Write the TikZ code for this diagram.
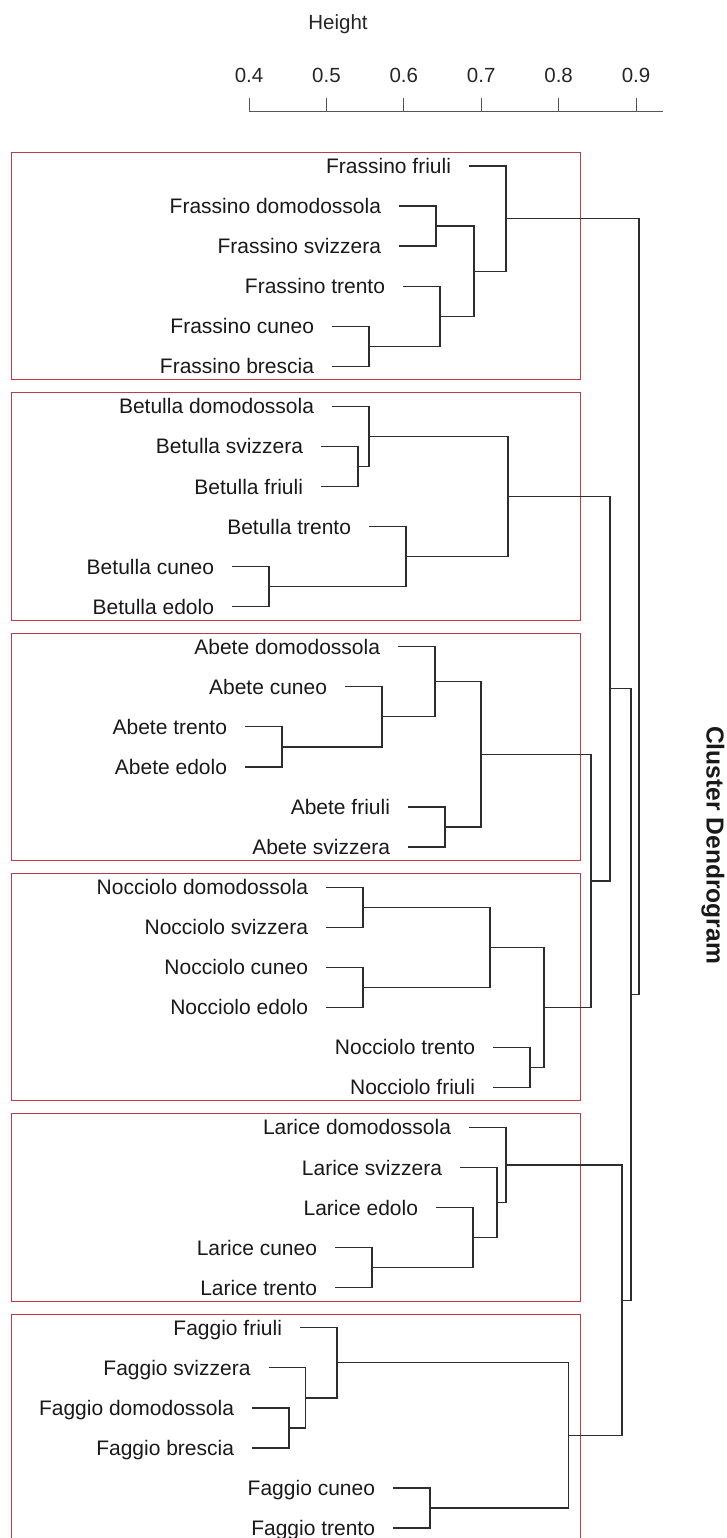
\documentclass[tikz,border=0pt]{standalone}
\usepackage{fontspec}
\setmainfont{Liberation Sans}
\usepackage{xcolor}
\usetikzlibrary{calc}
\definecolor{boxred}{RGB}{190,60,70}
\definecolor{inkgray}{RGB}{45,45,45}
\definecolor{axisgray}{RGB}{85,85,85}
\tikzset{
  leaf/.style={
    anchor=east,
    inner sep=0pt,
    outer xsep=18pt,
    text height=15pt,
    text depth=0pt,
    text=black!90,
    font=\fontsize{21}{24}\selectfont
  },
  branch/.style={
    draw=inkgray,
    line width=1.2pt
  },
  clusterbox/.style={
    draw=boxred,
    line width=0.9pt
  },
  axisline/.style={
    draw=axisgray,
    line width=1pt
  },
  ticklabel/.style={
    inner sep=0pt,
    text height=14.7pt,
    text depth=0pt,
    text=black!85,
    font=\fontsize{20.5}{24}\selectfont
  },
  plottitle/.style={
    inner sep=0pt,
    rotate=-90,
    text=black!90,
    font=\fontsize{24.6}{28}\selectfont\bfseries
  }
}

\begin{document}
\begin{tikzpicture}[x=1pt,y=-1pt]
  \useasboundingbox (0,0) rectangle (726,1538);

  % scale
  \node[ticklabel] (height) at (338,22) {Height};
  \draw[axisline] (249,112) -- (663,112);
  \foreach \h/\xx [count=\i] in {0.4/249,0.5/326.4,0.6/403.8,0.7/481.2,0.8/558.6,0.9/636}{
    \draw[axisline] (\xx,98) -- (\xx,112);
    \node[ticklabel] (tick\i) at (\xx,75) {\h};
  }

  % boxes
  \foreach \top/\bot in {152.5/379.8,392.9/620.2,633.2/860.5,873.6/1100.9,1113.9/1301.2,1314.2/1541.5}{
    \draw[clusterbox] (11,\top) rectangle (580,\bot);
  }

  % leaves
  \node[leaf] (fra-friuli) at (469,166.0) {Frassino friuli};
  \node[leaf] (fra-domo) at (399,206.1) {Frassino domodossola};
  \node[leaf] (fra-svizz) at (399,246.1) {Frassino svizzera};
  \node[leaf] (fra-trento) at (403,286.2) {Frassino trento};
  \node[leaf] (fra-cuneo) at (332,326.2) {Frassino cuneo};
  \node[leaf] (fra-brescia) at (332,366.3) {Frassino brescia};

  \node[leaf] (bet-domo) at (332,406.4) {Betulla domodossola};
  \node[leaf] (bet-svizz) at (321,446.4) {Betulla svizzera};
  \node[leaf] (bet-friuli) at (321,486.5) {Betulla friuli};
  \node[leaf] (bet-trento) at (369,526.5) {Betulla trento};
  \node[leaf] (bet-cuneo) at (232,566.6) {Betulla cuneo};
  \node[leaf] (bet-edolo) at (232,606.7) {Betulla edolo};

  \node[leaf] (abe-domo) at (398,646.7) {Abete domodossola};
  \node[leaf] (abe-cuneo) at (345,686.8) {Abete cuneo};
  \node[leaf] (abe-trento) at (245,726.8) {Abete trento};
  \node[leaf] (abe-edolo) at (245,766.9) {Abete edolo};
  \node[leaf] (abe-friuli) at (408,807.0) {Abete friuli};
  \node[leaf] (abe-svizz) at (408,847.0) {Abete svizzera};

  \node[leaf] (noc-domo) at (326,887.1) {Nocciolo domodossola};
  \node[leaf] (noc-svizz) at (326,927.1) {Nocciolo svizzera};
  \node[leaf] (noc-cuneo) at (326,967.2) {Nocciolo cuneo};
  \node[leaf] (noc-edolo) at (326,1007.3) {Nocciolo edolo};
  \node[leaf] (noc-trento) at (493,1047.3) {Nocciolo trento};
  \node[leaf] (noc-friuli) at (493,1087.4) {Nocciolo friuli};

  \node[leaf] (lar-domo) at (469,1127.4) {Larice domodossola};
  \node[leaf] (lar-svizz) at (460,1167.5) {Larice svizzera};
  \node[leaf] (lar-edolo) at (436,1207.6) {Larice edolo};
  \node[leaf] (lar-cuneo) at (335,1247.6) {Larice cuneo};
  \node[leaf] (lar-trento) at (335,1287.7) {Larice trento};

  \node[leaf] (fag-friuli) at (300,1327.7) {Faggio friuli};
  \node[leaf] (fag-svizz) at (268.5,1367.8) {Faggio svizzera};
  \node[leaf] (fag-domo) at (252,1407.9) {Faggio domodossola};
  \node[leaf] (fag-brescia) at (252,1447.9) {Faggio brescia};
  \node[leaf] (fag-cuneo) at (393,1488.0) {Faggio cuneo};
  \node[leaf] (fag-trento) at (393,1528.0) {Faggio trento};

  % merges
  \coordinate (fra1) at (436,226.1);
  \coordinate (fra2) at (369,346.3);
  \coordinate (fra3) at (440,316.2);
  \coordinate (fra4) at (474,271.2);
  \coordinate (fra5) at (506,218.6);

  \coordinate (bet1) at (358,466.5);
  \coordinate (bet2) at (369,436.4);
  \coordinate (bet3) at (269,586.6);
  \coordinate (bet4) at (406,556.6);
  \coordinate (bet5) at (508,496.5);

  \coordinate (abe1) at (282,746.9);
  \coordinate (abe2) at (382,716.8);
  \coordinate (abe3) at (435,681.8);
  \coordinate (abe4) at (445,827.0);
  \coordinate (abe5) at (481,754.4);

  \coordinate (noc1) at (363,907.1);
  \coordinate (noc2) at (363,987.2);
  \coordinate (noc3) at (490,947.2);
  \coordinate (noc4) at (530,1067.4);
  \coordinate (noc5) at (544,1007.3);

  \coordinate (abenoc) at (591,880.9);
  \coordinate (betabenoc) at (610,688.7);

  \coordinate (lar1) at (372,1267.6);
  \coordinate (lar2) at (473,1237.6);
  \coordinate (lar3) at (497,1202.5);
  \coordinate (lar4) at (506,1165.0);

  \coordinate (fag1) at (289,1427.9);
  \coordinate (fag2) at (305.5,1397.9);
  \coordinate (fag3) at (337,1362.8);
  \coordinate (fag4) at (430,1508.0);
  \coordinate (fag5) at (568.5,1435.4);

  \coordinate (larfag) at (622,1300.2);
  \coordinate (inner) at (631,994.5);
  \coordinate (root) at (639,606.5);

  \draw[branch] (fra-domo.east) -| (fra1) |- (fra-svizz.east);
  \draw[branch] (fra-cuneo.east) -| (fra2) |- (fra-brescia.east);
  \draw[branch] (fra-trento.east) -| (fra3) |- (fra2);
  \draw[branch] (fra1) -| (fra4) |- (fra3);
  \draw[branch] (fra-friuli.east) -| (fra5) |- (fra4);

  \draw[branch] (bet-svizz.east) -| (bet1) |- (bet-friuli.east);
  \draw[branch] (bet-domo.east) -| (bet2) |- (bet1);
  \draw[branch] (bet-cuneo.east) -| (bet3) |- (bet-edolo.east);
  \draw[branch] (bet-trento.east) -| (bet4) |- (bet3);
  \draw[branch] (bet2) -| (bet5) |- (bet4);

  \draw[branch] (abe-trento.east) -| (abe1) |- (abe-edolo.east);
  \draw[branch] (abe-cuneo.east) -| (abe2) |- (abe1);
  \draw[branch] (abe-domo.east) -| (abe3) |- (abe2);
  \draw[branch] (abe-friuli.east) -| (abe4) |- (abe-svizz.east);
  \draw[branch] (abe3) -| (abe5) |- (abe4);

  \draw[branch] (noc-domo.east) -| (noc1) |- (noc-svizz.east);
  \draw[branch] (noc-cuneo.east) -| (noc2) |- (noc-edolo.east);
  \draw[branch] (noc1) -| (noc3) |- (noc2);
  \draw[branch] (noc-trento.east) -| (noc4) |- (noc-friuli.east);
  \draw[branch] (noc3) -| (noc5) |- (noc4);

  \draw[branch] (abe5) -| (abenoc) |- (noc5);
  \draw[branch] (bet5) -| (betabenoc) |- (abenoc);

  \draw[branch] (lar-cuneo.east) -| (lar1) |- (lar-trento.east);
  \draw[branch] (lar-edolo.east) -| (lar2) |- (lar1);
  \draw[branch] (lar-svizz.east) -| (lar3) |- (lar2);
  \draw[branch] (lar-domo.east) -| (lar4) |- (lar3);

  \draw[branch] (fag-domo.east) -| (fag1) |- (fag-brescia.east);
  \draw[branch] (fag-svizz.east) -| (fag2) |- (fag1);
  \draw[branch] (fag-friuli.east) -| (fag3) |- (fag2);
  \draw[branch] (fag-cuneo.east) -| (fag4) |- (fag-trento.east);
  \draw[branch] (fag3) -| (fag5) |- (fag4);

  \draw[branch] (lar4) -| (larfag) |- (fag5);
  \draw[branch] (betabenoc) -| (inner) |- (larfag);
  \draw[branch] (fra5) -| (root) |- (inner);

  \node[plottitle] (title) at (713,845) {Cluster Dendrogram};
\end{tikzpicture}
\end{document}
